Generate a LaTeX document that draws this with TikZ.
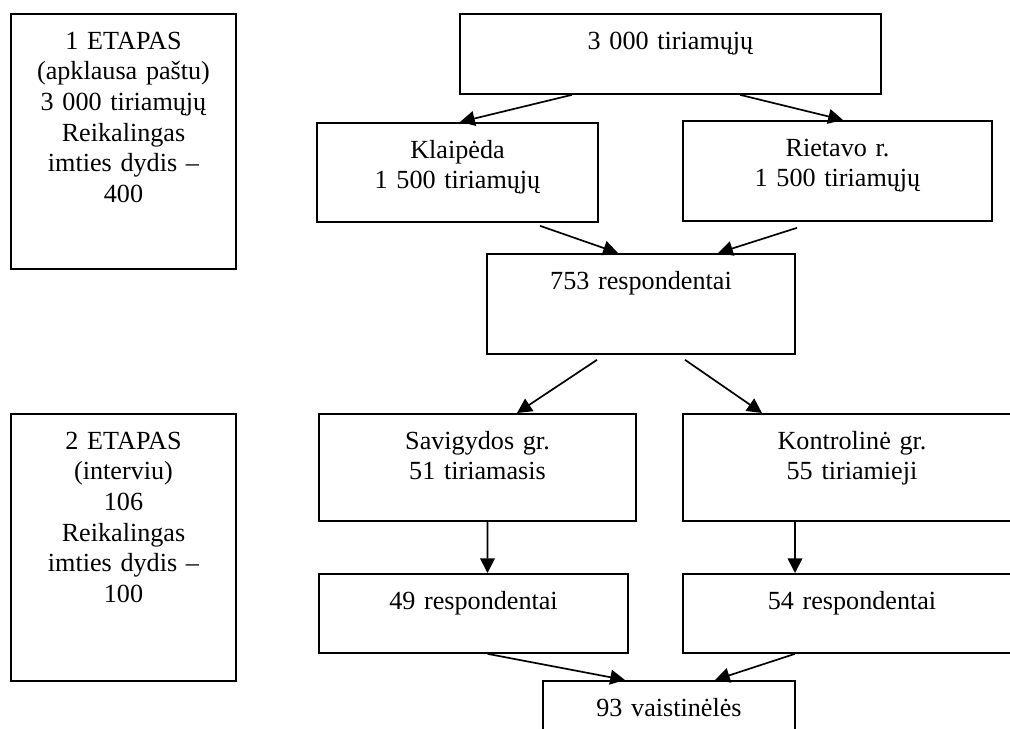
\documentclass[tikz,border=0pt]{standalone}
\usepackage{fontspec}
\setmainfont{Liberation Serif}
\usetikzlibrary{arrows.meta}
\tikzset{
  stagebox/.style={draw, line width=1.3pt, anchor=north, align=center,
    inner xsep=0pt, inner ysep=0pt, text height=25pt,
    font=\fontsize{18.6}{21.8}\selectfont},
  boxdim/.style 2 args={text width=#1, text depth={#2-25pt}},
  flow/.style={-{Triangle[length=10.5pt, width=10.5pt]}, line width=1.2pt}
}

\begin{document}
\begin{tikzpicture}
  \useasboundingbox (0,0) rectangle (25.25,-18.2);
  \clip (0,0) rectangle (25.25,-18.2);
  % etapai
  \node[stagebox, boxdim={5.625cm}{6.375cm}] (etap1) at (3.0875,-0.325) {1 ETAPAS\\(apklausa paštu)\\3 000 tiriamųjų\\Reikalingas\\imties dydis –\\400};
  \node[stagebox, boxdim={5.625cm}{6.675cm}] (etap2) at (3.0875,-10.325) {2 ETAPAS\\(interviu)\\106\\Reikalingas\\imties dydis –\\100};
  % imtis
  \node[stagebox, boxdim={10.525cm}{2.0cm}] (total) at (16.7625,-0.325) {3 000 tiriamųjų};
  \node[stagebox, boxdim={7.025cm}{2.475cm}] (klaipeda) at (11.4375,-3.05) {Klaipėda\\1 500 tiriamųjų};
  \node[stagebox, boxdim={7.725cm}{2.5cm}] (rietavo) at (20.9375,-3.0) {Rietavo r.\\1 500 tiriamųjų};
  \node[stagebox, boxdim={7.7cm}{2.5cm}] (resp753) at (16.025,-6.325) {753 respondentai};
  \node[stagebox, boxdim={7.925cm}{2.675cm}] (savigyda) at (11.9375,-10.325) {Savigydos gr.\\51 tiriamasis};
  \node[stagebox, boxdim={8.45cm}{2.675cm}] (kontrol) at (21.3,-10.325) {Kontrolinė gr.\\55 tiriamieji};
  \node[stagebox, boxdim={7.725cm}{1.975cm}] (resp49) at (11.8375,-14.325) {49 respondentai};
  \node[stagebox, boxdim={8.45cm}{1.975cm}] (resp54) at (21.3,-14.325) {54 respondentai};
  \node[stagebox, boxdim={6.3cm}{2.0cm}] (vaist) at (16.725,-17.0) {93 vaistinėlės};
  % rodyklės
  \draw[flow] ([xshift=-2.4625cm]total.south) -- ([xshift=0.0625cm]klaipeda.north);
  \draw[flow] ([xshift=1.7375cm]total.south) -- ([xshift=0.1375cm]rietavo.north);
  \draw[flow] ([xshift=2.0625cm,yshift=-0.075cm]klaipeda.south) -- ([xshift=-0.575cm]resp753.north);
  \draw[flow] ([xshift=-1.0125cm,yshift=-0.15cm]rietavo.south) -- ([xshift=1.925cm]resp753.north);
  \draw[flow] ([xshift=-1.1cm,yshift=-0.125cm]resp753.south) -- ([xshift=0.9875cm]savigyda.north);
  \draw[flow] ([xshift=1.1cm,yshift=-0.125cm]resp753.south) -- ([xshift=-2.25cm]kontrol.north);
  \draw[flow] ([xshift=0.25cm]savigyda.south) -- ([xshift=0.35cm]resp49.north);
  \draw[flow] ([xshift=-1.425cm]kontrol.south) -- ([xshift=-1.425cm]resp54.north);
  \draw[flow] ([xshift=0.35cm]resp49.south) -- ([xshift=-1.1cm]vaist.north);
  \draw[flow] ([xshift=-1.425cm]resp54.south) -- ([xshift=1.15cm]vaist.north);
\end{tikzpicture}
\end{document}
